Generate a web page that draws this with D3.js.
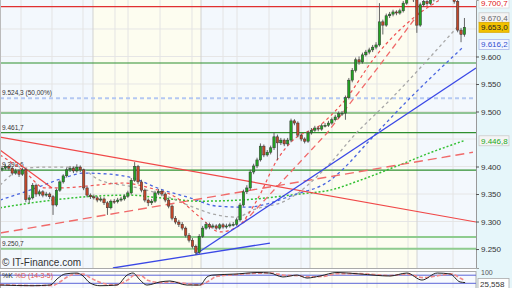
<!DOCTYPE html>
<html>
<head>
<meta charset="utf-8">
<script src="https://cdn.jsdelivr.net/npm/d3@7"></script>
<style>
body { margin: 0; background: #fff; }
svg { display: block; font-family: "Liberation Sans", Arial, sans-serif; }
</style>
</head>
<body>
<svg id="chart" width="512" height="288"></svg>
<script>
// candles (index 0..136)
const opens = [9395,9397,9400,9397,9388,9392,9386,9394,9340,9343, 9366,9350,9354,9348,9350,9345,9330,9357,9372,9383,
  9394,9397,9392,9399,9394,9361,9348,9345,9343,9339, 9341,9334,9325,9337,9336,9339,9341,9346,9352,9375,
  9400,9372,9357,9339,9334,9337,9352,9355,9350,9339, 9328,9306,9299,9295,9288,9275,9266,9255,9244,9273,
  9288,9295,9290,9292,9288,9294,9290,9292,9294,9295, 9303,9330,9354,9361,9390,9401,9412,9437,9421,9426,
  9434,9454,9443,9448,9441,9448,9483,9479,9457,9450, 9446,9461,9466,9470,9468,9474,9475,9479,9485,9490,
  9496,9497,9525,9557,9575,9594,9590,9603,9608,9612, 9617,9621,9663,9657,9674,9677,9681,9679,9683,9697,
  9708,9712,9703,9657,9694,9700,9696,9703,9712,9717, 9714,9717,9714,9708,9700,9648,9640];
const highs = [9401,9404,9403,9400,9396,9395,9398,9397,9348,9370, 9369,9358,9357,9354,9353,9348,9360,9375,9386,9398,
  9401,9400,9404,9402,9396,9364,9351,9349,9346,9345, 9344,9337,9340,9341,9343,9345,9349,9356,9379,9408,
  9403,9376,9360,9342,9341,9356,9359,9358,9353,9342, 9331,9310,9303,9299,9291,9279,9270,9258,9277,9292,
  9299,9298,9296,9295,9297,9297,9296,9298,9299,9307, 9334,9358,9366,9394,9405,9416,9442,9440,9430,9438,
  9462,9458,9452,9451,9452,9487,9486,9482,9460,9453, 9465,9470,9474,9473,9478,9479,9483,9489,9494,9500,
  9501,9529,9561,9579,9598,9600,9607,9612,9616,9621, 9626,9697,9667,9678,9681,9685,9684,9687,9701,9712,
  9716,9715,9706,9698,9704,9703,9707,9716,9721,9720, 9721,9720,9718,9711,9703,9652,9670];
const lows = [9391,9394,9393,9384,9385,9381,9383,9335,9333,9340, 9345,9346,9344,9345,9341,9312,9327,9354,9369,9380,
  9390,9388,9389,9390,9357,9344,9341,9340,9335,9336, 9330,9312,9322,9332,9333,9336,9338,9343,9349,9372,
  9368,9353,9335,9328,9330,9334,9348,9346,9335,9324, 9302,9295,9290,9284,9271,9262,9251,9239,9241,9270,
  9285,9286,9287,9285,9285,9287,9287,9289,9291,9292, 9300,9327,9350,9357,9386,9397,9409,9417,9418,9422,
  9430,9412,9439,9437,9437,9444,9475,9453,9446,9442, 9443,9458,9463,9464,9465,9471,9472,9476,9482,9487,
  9492,9485,9522,9553,9571,9585,9587,9600,9604,9608, 9613,9618,9640,9654,9670,9673,9675,9676,9680,9694,
  9705,9699,9643,9654,9690,9692,9693,9700,9709,9710, 9711,9710,9704,9696,9644,9626,9636];
const closes = [9397,9400,9397,9388,9392,9386,9394,9340,9343,9366, 9350,9354,9348,9350,9345,9330,9357,9372,9383,9394,
  9397,9392,9399,9394,9361,9348,9345,9343,9339,9341, 9334,9325,9337,9336,9339,9341,9346,9352,9375,9400,
  9372,9357,9339,9334,9337,9352,9355,9350,9339,9328, 9306,9299,9295,9288,9275,9266,9255,9244,9273,9288,
  9295,9290,9292,9288,9294,9290,9292,9294,9295,9303, 9330,9354,9361,9390,9401,9412,9437,9421,9426,9434,
  9454,9443,9448,9441,9448,9483,9479,9457,9450,9446, 9461,9466,9470,9468,9474,9475,9479,9485,9490,9496,
  9497,9525,9557,9575,9594,9590,9603,9608,9612,9617, 9621,9663,9657,9674,9677,9681,9679,9683,9697,9708,
  9712,9703,9657,9694,9700,9696,9703,9712,9717,9714, 9717,9714,9708,9700,9648,9640,9653];

const redMa = [[-0.6,9421],[6.75,9390],[12.6,9361],[17,9361],[25.9,9365],[35.6,9370],[43.5,9361],[50.9,9345],
  [58.2,9308],[64.1,9281],[69.1,9290],[75,9339],[80.9,9412],[85.6,9448],[93.5,9475],[100.9,9521],[109.7,9599],[122,9675],[128.8,9703]];
const grayMa = [[-0.6,9366],[6.75,9397],[14.1,9399],[22,9399],[28.8,9375],[38.5,9363],[46.5,9350],[56.2,9326],
  [61.2,9315],[69.1,9308],[73.8,9321],[83.8,9339],[96.5,9406],[103.2,9454],[114.1,9521],[134.1,9655]];
const blueMa = [[-0.6,9339],[8.2,9357],[19.1,9381],[23.8,9388],[31.8,9386],[38.5,9379],[46.5,9359],[55.3,9343],
  [63.2,9328],[72,9326],[85.6,9348],[96.5,9375],[99.4,9390],[108.2,9448],[118.5,9515],[135.6,9617]];
const greenMa = [[-0.6,9325],[15,9339],[26.8,9346],[37.6,9348],[46.5,9343],[58.2,9337],[70,9339],[87.6,9350],
  [96.5,9357],[105.3,9375],[117,9403],[125.9,9425],[135.9,9447]];
const redLongDash = [[-0.6,9279],[138.5,9426]];
const redSteepDash = [[70.9,9297],[95.6,9461],[111.2,9585],[122.9,9681]];

// drawn trend lines
const redTrend = [[-0.6,9453.6],[139.4,9299.1]];
const redTrendShort = [[-0.6,9430],[14.7,9361]];
const blueTrendUp = [[57.05,9240.9],[139.4,9579.1]];
const blueTrendLow = [[32.6,9215.5],[78.8,9260.9]];

// horizontal levels
const greenLevels = [9588.2, 9497.3, 9461.7, 9393.6];
const greenLevelsLight = [9271.8, 9250.7];
const redLevels = [9690.5];
const fiboLevels = [9524.3];
const levelLabels = [[9524.3, "9.524,3 (50,00%)"], [9461.7, "9.461,7"], [9393.6, "9.393,6"], [9250.7, "9.250,7"]];

// calendar
const monthStarts = [26.75, 58.52, 90.58, 122.05];
const weekLines = [5.58, 14.69, 23.81, 33.22, 37.05, 46.46, 55.87, 64.99, 69.11, 78.52, 87.93, 97.05, 107.34, 110.28, 119.4, 132.64];
const priceTicks = [9250, 9300, 9350, 9400, 9450, 9500, 9550, 9600, 9650];

// stochastic %K / %D
const stochK = [[-0.6,7],[9.1,2],[14.1,7],[16.5,59],[18.5,89],[22,96],[23.5,81],[25.9,22],[28.8,2],[33.8,7],
  [36.8,81],[38.5,96],[40.6,44],[42.6,7],[46.5,30],[49.4,37],[54.4,7],[58.2,7],[60.3,67],[62,81],[69.1,89],
  [75,100],[78.8,96],[82.6,67],[86.8,81],[89.7,59],[93.5,74],[98.5,100],[105.3,89],[114.1,74],[119.1,96],
  [123.5,44],[128,96],[131.8,89],[134.7,30],[136.2,25.558]];
const stochD = [[-0.6,10],[9,4],[15,5],[17,30],[19,65],[22,90],[24,88],[26,60],[29,25],[33,8],[37,45],[39,80],
  [41,75],[43,40],[47,25],[50,30],[55,15],[58,8],[61,40],[63,70],[69,85],[75,95],[79,96],[83,80],[87,76],[90,68],
  [94,70],[99,92],[105,92],[114,78],[119,88],[124,62],[128,75],[132,90],[135,55],[136.2,40]];

// value tags on the price axis
const tags = [
  {v: 9700.7, text: "#e02020", bg: "#ffffff", border: "#dddddd"},
  {v: 9670.4, text: "#666666", bg: "#f4f4f4", border: "#cccccc"},
  {v: 9653.0, text: "#222222", bg: "#f2c200", border: "#d9a800"},
  {v: 9616.2, text: "#3050d0", bg: "#f2f5ff", border: "#a8b8e8"},
  {v: 9446.8, text: "#22aa22", bg: "#f4f4f4", border: "#cccccc"}
];
const stochLast = 25.558;

const W = 512, H = 288;
const plotR = 476, plotB = 268;
const stochTop = 271, stochBot = 290;

const loc = d3.formatLocale({decimal: ",", thousands: ".", grouping: [3], currency: ["", ""]});
const fmtAxis = loc.format(",.0f");
const fmtTag = loc.format(",.1f");
const fmtStoch = loc.format(",.3f");

const svg = d3.select("#chart");

const x = d3.scaleLinear().domain([-0.6, 139.4]).range([0, plotR]);
const y = d3.scaleLinear().domain([9215.5, 9702.7]).range([plotB, 0]);
const ys = d3.scaleLinear().domain([0, 100]).range([286, 272.5]);

svg.append("defs").append("clipPath").attr("id", "clipMain")
  .append("rect").attr("x", 0).attr("y", 0).attr("width", plotR).attr("height", plotB);
svg.select("defs").append("clipPath").attr("id", "clipStoch")
  .append("rect").attr("x", 0).attr("y", stochTop).attr("width", plotR).attr("height", stochBot - stochTop);

// background bands (alternating months)
const bandEdges = [-0.6, ...monthStarts, 139.4];
const bands = d3.pairs(bandEdges).map((p, k) => ({a: p[0], b: p[1], k}));
svg.append("g").selectAll("rect").data(bands).join("rect")
  .attr("x", d => x(d.a)).attr("width", d => x(d.b) - x(d.a))
  .attr("y", 0).attr("height", plotB)
  .attr("fill", d => d.k % 2 === 0 ? "#f3f8fd" : "#fdfdf0");
svg.append("g").selectAll("rect").data(bands).join("rect")
  .attr("x", d => x(d.a)).attr("width", d => x(d.b) - x(d.a))
  .attr("y", stochTop).attr("height", stochBot - stochTop)
  .attr("fill", d => d.k % 2 === 0 ? "#f7fafe" : "#fefef6");

// axis area
svg.append("rect").attr("x", plotR).attr("y", 0).attr("width", W - plotR).attr("height", H).attr("fill", "#e6f6fa");

// grid
const grid = svg.append("g").attr("clip-path", "url(#clipMain)");
grid.selectAll("line.h").data(priceTicks).join("line").attr("class", "h")
  .attr("x1", 0).attr("x2", plotR).attr("y1", d => y(d)).attr("y2", d => y(d))
  .attr("stroke", "#e6e6e6").attr("stroke-width", 1);
grid.selectAll("line.w").data(weekLines).join("line").attr("class", "w")
  .attr("x1", d => x(d)).attr("x2", d => x(d)).attr("y1", 0).attr("y2", plotB)
  .attr("stroke", "#e4e4e4").attr("stroke-width", 1);
grid.selectAll("line.m").data(monthStarts).join("line").attr("class", "m")
  .attr("x1", d => x(d)).attr("x2", d => x(d)).attr("y1", 0).attr("y2", plotB)
  .attr("stroke", "#d2d2d2").attr("stroke-width", 1);
svg.append("g").selectAll("line").data(weekLines.concat(monthStarts)).join("line")
  .attr("x1", d => x(d)).attr("x2", d => x(d)).attr("y1", stochTop).attr("y2", stochBot)
  .attr("stroke", "#e6e6e6");

const main = svg.append("g").attr("clip-path", "url(#clipMain)");

function hLevels(vals, color, width, dash) {
  main.append("g").selectAll("line").data(vals).join("line")
    .attr("x1", 0).attr("x2", plotR).attr("y1", d => y(d)).attr("y2", d => y(d))
    .attr("stroke", color).attr("stroke-width", width).attr("stroke-dasharray", dash);
}
hLevels(greenLevelsLight, "#8fcc8f", 2, null);
hLevels(greenLevels, "#2f8f2f", 1.2, null);
hLevels(redLevels, "#e03030", 1.2, null);
hLevels(fiboLevels, "#b4c8f2", 2, "4,3");

main.append("g").selectAll("text").data(levelLabels).join("text")
  .attr("x", 2).attr("y", d => y(d[0]) - 3)
  .attr("font-size", 6.5).attr("fill", "#333").text(d => d[1]);

const straight = d3.line().x(d => x(d[0])).y(d => y(d[1]));
const smooth = d3.line().x(d => x(d[0])).y(d => y(d[1])).curve(d3.curveMonotoneX);

function path(data, gen, color, width, dash) {
  main.append("path").datum(data).attr("d", gen).attr("fill", "none")
    .attr("stroke", color).attr("stroke-width", width).attr("stroke-dasharray", dash);
}
path(greenMa, smooth, "#33c033", 1.5, "2,2");
path(blueMa, smooth, "#4a66e0", 1.3, "3,3");
path(grayMa, smooth, "#a8a8a8", 1.3, "3,3");
path(redLongDash, straight, "#f06a6a", 1.4, "9,5");
path(redSteepDash, straight, "#f06a6a", 1.3, "6,4");
path(redMa, smooth, "#f05050", 1.2, "3,3");
path(redTrend, straight, "#f04848", 1.2, null);
path(redTrendShort, straight, "#f04848", 1.2, null);
path(blueTrendUp, straight, "#3a48e6", 1.3, null);
path(blueTrendLow, straight, "#3a48e6", 1.3, null);

// candles
const candles = closes.map((c, i) => ({i, o: opens[i], h: highs[i], l: lows[i], c}));
main.append("g").selectAll("line").data(candles).join("line")
  .attr("x1", d => x(d.i)).attr("x2", d => x(d.i))
  .attr("y1", d => y(d.h)).attr("y2", d => y(d.l))
  .attr("stroke", "#555").attr("stroke-width", 0.9);
main.append("g").selectAll("rect").data(candles).join("rect")
  .attr("x", d => x(d.i) - 1.2).attr("width", 2.4)
  .attr("y", d => y(Math.max(d.o, d.c)))
  .attr("height", d => Math.max(1, Math.abs(y(d.o) - y(d.c))))
  .attr("fill", d => d.c >= d.o ? "#22a322" : "#c2472a")
  .attr("stroke", "#333").attr("stroke-width", 0.5);

// watermark
svg.append("text").attr("x", 2).attr("y", 266).attr("font-size", 10).attr("fill", "#333")
  .text("\u00a9 IT-Finance.com");

// panel borders
svg.append("line").attr("x1", 0).attr("x2", plotR).attr("y1", plotB + 0.5).attr("y2", plotB + 0.5).attr("stroke", "#aaa");
svg.append("rect").attr("x", 0.5).attr("y", stochTop + 0.5).attr("width", plotR - 0.5).attr("height", stochBot - stochTop)
  .attr("fill", "none").attr("stroke", "#aaa");
svg.append("line").attr("x1", 0.5).attr("x2", 0.5).attr("y1", 0).attr("y2", plotB).attr("stroke", "#bbb");

// right axis
const hidden = tags.map(t => t.v);
const shownTicks = priceTicks.filter(t => !hidden.some(v => Math.abs(y(v) - y(t)) < 6));
const axis = svg.append("g").attr("transform", `translate(${plotR},0)`)
  .call(d3.axisRight(y).tickValues(shownTicks).tickSize(3).tickPadding(2).tickFormat(fmtAxis));
axis.select(".domain").attr("stroke", "#999");
axis.selectAll(".tick line").attr("stroke", "#555");
axis.selectAll(".tick text").attr("font-size", 8).attr("fill", "#333")
  .attr("font-family", "'Liberation Sans', Arial, sans-serif");

// value tags, nudged away from visible tick labels
tags.forEach(t => {
  let cy = Math.max(y(t.v), 3);
  shownTicks.forEach(tk => {
    const d = cy - y(tk);
    if (Math.abs(d) < 12) cy = y(tk) + (d < 0 ? -12 : 12);
  });
  t.cy = cy;
});
const tagG = svg.append("g").selectAll("g").data(tags).join("g")
  .attr("transform", d => `translate(${plotR + 3},${d.cy})`);
tagG.append("rect").attr("x", 0).attr("y", -5).attr("width", 30).attr("height", 10)
  .attr("fill", d => d.bg).attr("stroke", d => d.border).attr("stroke-width", 0.8);
tagG.append("text").attr("x", 2).attr("y", 3).attr("font-size", 8)
  .attr("fill", d => d.text).text(d => fmtTag(d.v));

// stochastic
const stoch = svg.append("g").attr("clip-path", "url(#clipStoch)");
stoch.selectAll("line.lv").data([80, 20]).join("line").attr("class", "lv")
  .attr("x1", 0).attr("x2", plotR).attr("y1", d => ys(d)).attr("y2", d => ys(d))
  .attr("stroke", "#5a64d8").attr("stroke-width", 1);
const sLine = d3.line().x(d => x(d[0])).y(d => ys(d[1])).curve(d3.curveMonotoneX);
stoch.append("path").datum(stochD).attr("d", sLine).attr("fill", "none")
  .attr("stroke", "#f08a8a").attr("stroke-width", 1.6).attr("stroke-dasharray", "4,2");
stoch.append("path").datum(stochK).attr("d", sLine).attr("fill", "none")
  .attr("stroke", "#222").attr("stroke-width", 1);
const sl = svg.append("text").attr("x", 2).attr("y", stochTop + 6.5).attr("font-size", 7);
sl.append("tspan").attr("fill", "#222").text("%K ");
sl.append("tspan").attr("fill", "#e05050").text("%D (14-3-5)");

svg.append("text").attr("x", plotR + 5).attr("y", ys(100) + 2.5).attr("font-size", 7).attr("fill", "#555").text("100");
const sTag = svg.append("g").attr("transform", `translate(${plotR + 2},${ys(stochLast) + 1})`);
sTag.append("rect").attr("x", 0).attr("y", -5).attr("width", 31).attr("height", 10)
  .attr("fill", "#fff").attr("stroke", "#aaa").attr("stroke-width", 0.8);
sTag.append("text").attr("x", 2).attr("y", 3).attr("font-size", 8).attr("fill", "#333").text(fmtStoch(stochLast));
</script>
</body>
</html>
